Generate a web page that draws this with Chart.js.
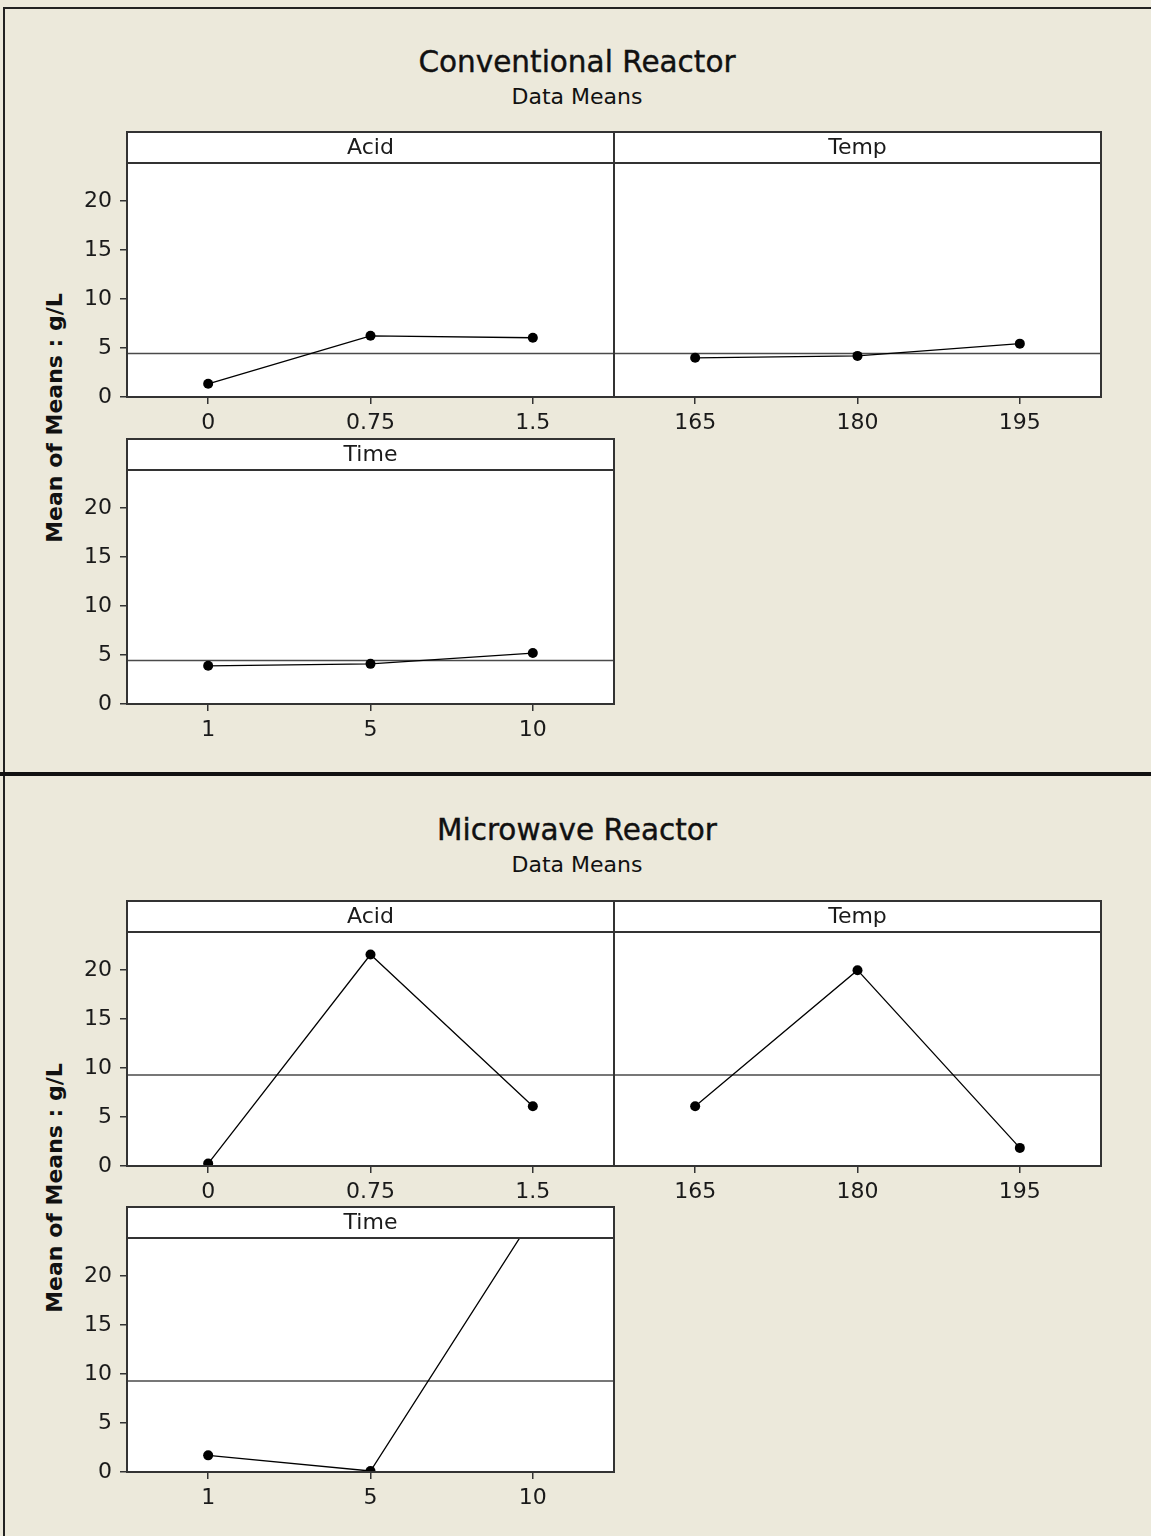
<!DOCTYPE html>
<html>
<head>
<meta charset="utf-8">
<script src="https://cdn.jsdelivr.net/npm/chart.js@4.4.1/dist/chart.umd.min.js"></script>
<style>
  html, body { margin: 0; padding: 0; background: #ECE9DB; }
  body { width: 1151px; height: 1536px; position: relative; overflow: hidden;
         font-family: 'DejaVu Sans', sans-serif; color: #111; }
  .frame { position: absolute; border-left: 2px solid #222; border-top: 2px solid #222; }
  .divider { position: absolute; left: 0; width: 1151px; height: 4px; background: #111; }
  .txt { position: absolute; transform: translate(-50%, -50%); white-space: nowrap; line-height: 1; }
  .title { font-size: 29.5px; -webkit-text-stroke: 0.4px #111; }
  .sub { font-size: 22px; }
  .ylab { font-size: 22px; font-weight: bold; transform: translate(-50%, -50%) rotate(-90deg); }
  .pane { position: absolute; }
</style>
</head>
<body>
<div class="frame" style="left:3px; top:7px; width:1160px; height:780px;"></div>
<div class="divider" style="top:772px;"></div>
<div class="frame" style="left:3px; top:776px; width:1160px; height:800px; border-top:none;"></div>

<div class="txt title" style="left:577px; top:63px;">Conventional Reactor</div>
<div class="txt sub" style="left:577px; top:97px;">Data Means</div>
<div class="txt ylab" style="left:55px; top:418px;">Mean of Means : g/L</div>

<div class="txt title" style="left:577px; top:831px;">Microwave Reactor</div>
<div class="txt sub" style="left:577px; top:865px;">Data Means</div>
<div class="txt ylab" style="left:55px; top:1188px;">Mean of Means : g/L</div>

<script>
// Factor levels (x categories)
const acidLevels = ['0', '0.75', '1.5'];
const tempLevels = ['165', '180', '195'];
const timeLevels = ['1', '5', '10'];

// Conventional reactor: mean response (g/L) at each level
const convAcid = [1.35, 6.25, 6.05];
const convTemp = [4.0, 4.2, 5.45];
const convTime = [3.9, 4.1, 5.2];
const convMean = 4.45;

// Microwave reactor: mean response (g/L) at each level
const micAcid = [0.25, 21.6, 6.1];
const micTemp = [6.1, 20.0, 1.85];
const micTime = [1.7, 0.1, 26.0];
const micMean = 9.3;

// Shared y axis
const yMin = 0;
const yMax = 23.9;
const yStep = 5;

Chart.defaults.font.family = "'DejaVu Sans', sans-serif";
Chart.defaults.color = '#1a1a1a';

const FRAME = '#333';
const HEADER_H = 31;
const PLOT_W = 487;
const PLOT_H = 234;

// Draws the white panel, its strip header, the grand-mean line and the frame
const panelPlugin = {
  id: 'panel',
  beforeDraw(chart, args, opts) {
    const { ctx, chartArea: a } = chart;
    ctx.save();
    ctx.fillStyle = '#ffffff';
    ctx.fillRect(a.left, a.top - HEADER_H, a.right - a.left, a.bottom - a.top + HEADER_H);
    ctx.restore();
  },
  beforeDatasetsDraw(chart, args, opts) {
    const { ctx, chartArea: a, scales } = chart;
    const py = scales.y.getPixelForValue(opts.mean);
    ctx.save();
    ctx.strokeStyle = '#4a4a4a';
    ctx.lineWidth = 1.5;
    ctx.beginPath();
    ctx.moveTo(a.left, py);
    ctx.lineTo(a.right, py);
    ctx.stroke();
    ctx.restore();
  },
  afterDraw(chart, args, opts) {
    const { ctx, chartArea: a } = chart;
    ctx.save();
    ctx.strokeStyle = FRAME;
    ctx.lineWidth = 2;
    ctx.strokeRect(a.left, a.top - HEADER_H, a.right - a.left, a.bottom - a.top + HEADER_H);
    ctx.beginPath();
    ctx.moveTo(a.left, a.top);
    ctx.lineTo(a.right, a.top);
    ctx.stroke();
    ctx.fillStyle = '#1a1a1a';
    ctx.font = "22px 'DejaVu Sans', sans-serif";
    ctx.textAlign = 'center';
    ctx.textBaseline = 'middle';
    ctx.fillText(opts.name, (a.left + a.right) / 2, a.top - HEADER_H / 2 + 1);
    ctx.restore();
  }
};

function makePanel(p) {
  const padLeft = p.yLabels ? 0 : 10;
  const yWidth = p.yLabels ? 110 : 0;
  const padTop = 6 + HEADER_H;
  const padRight = 8, padBottom = 4, xHeight = 48;
  const w = padLeft + yWidth + PLOT_W + padRight;
  const h = padTop + PLOT_H + xHeight + padBottom;

  const holder = document.createElement('div');
  holder.className = 'pane';
  holder.style.left = (p.left - padLeft - yWidth) + 'px';
  holder.style.top = (p.plotTop - padTop) + 'px';
  holder.style.width = w + 'px';
  holder.style.height = h + 'px';
  const canvas = document.createElement('canvas');
  canvas.width = w;
  canvas.height = h;
  holder.appendChild(canvas);
  document.body.appendChild(holder);

  new Chart(canvas, {
    type: 'line',
    data: {
      labels: p.levels,
      datasets: [{
        data: p.values,
        borderColor: '#000',
        borderWidth: 1.3,
        pointRadius: 5,
        pointBackgroundColor: '#000',
        pointBorderWidth: 0,
        tension: 0
      }]
    },
    options: {
      responsive: false,
      animation: false,
      events: [],
      layout: { padding: { left: padLeft, top: padTop, right: padRight, bottom: padBottom } },
      plugins: {
        legend: { display: false },
        tooltip: { enabled: false },
        panel: { name: p.name, mean: p.mean }
      },
      scales: {
        x: {
          type: 'category',
          offset: true,
          afterFit(s) { s.height = xHeight; },
          border: { display: false },
          grid: { drawOnChartArea: false, drawTicks: true, tickLength: 7, color: FRAME, lineWidth: 1.5 },
          ticks: { font: { size: 22 }, padding: 6, maxRotation: 0, color: '#1a1a1a' }
        },
        y: {
          display: p.yLabels,
          min: yMin,
          max: yMax,
          afterFit(s) { s.width = yWidth; },
          border: { display: false },
          grid: { drawOnChartArea: false, drawTicks: true, tickLength: 7, color: FRAME, lineWidth: 1.5 },
          ticks: { stepSize: yStep, includeBounds: false, font: { size: 22 }, padding: 8, color: '#1a1a1a' }
        }
      }
    },
    plugins: [panelPlugin]
  });
}

// Conventional reactor panels
makePanel({ name: 'Acid', levels: acidLevels, values: convAcid, mean: convMean, left: 127, plotTop: 163, yLabels: true });
makePanel({ name: 'Temp', levels: tempLevels, values: convTemp, mean: convMean, left: 614, plotTop: 163, yLabels: false });
makePanel({ name: 'Time', levels: timeLevels, values: convTime, mean: convMean, left: 127, plotTop: 470, yLabels: true });

// Microwave reactor panels
makePanel({ name: 'Acid', levels: acidLevels, values: micAcid, mean: micMean, left: 127, plotTop: 932, yLabels: true });
makePanel({ name: 'Temp', levels: tempLevels, values: micTemp, mean: micMean, left: 614, plotTop: 932, yLabels: false });
makePanel({ name: 'Time', levels: timeLevels, values: micTime, mean: micMean, left: 127, plotTop: 1238, yLabels: true });
</script>
</body>
</html>
